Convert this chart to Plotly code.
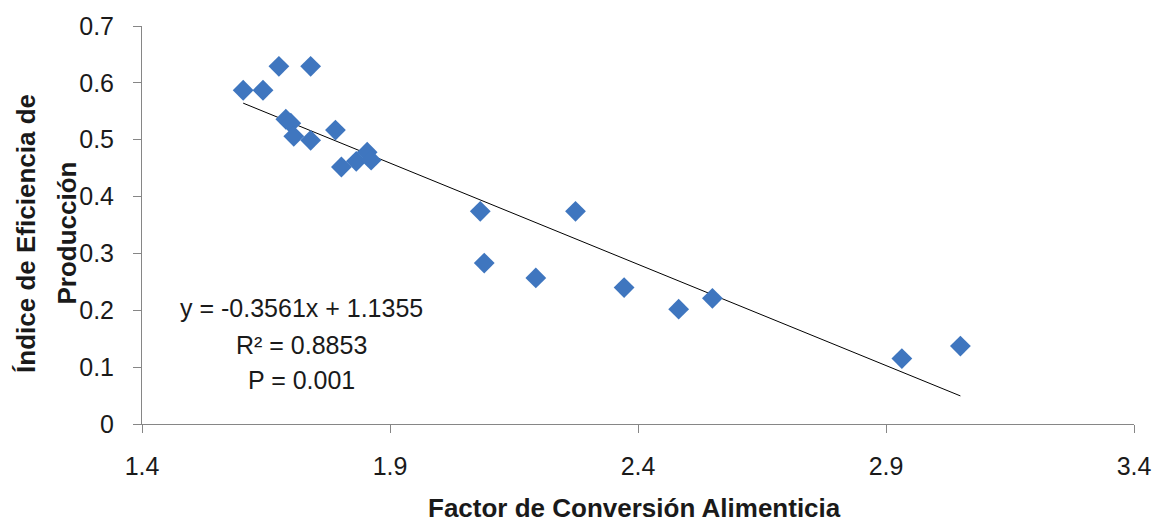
import plotly.graph_objects as go

fca = [1.604, 1.644, 1.676, 1.740, 1.690, 1.700, 1.706, 1.740, 1.790, 1.802,
       1.832, 1.854, 1.862, 2.082, 2.090, 2.194, 2.274, 2.372, 2.482, 2.550,
       2.932, 3.050]
iep = [0.587, 0.587, 0.629, 0.629, 0.536, 0.529, 0.506, 0.499, 0.517, 0.452,
       0.462, 0.478, 0.464, 0.374, 0.283, 0.257, 0.374, 0.240, 0.202, 0.221,
       0.115, 0.137]

slope = -0.3561
intercept = 1.1355
eq_lines = ["y = -0.3561x + 1.1355", "R² = 0.8853", "P = 0.001"]

x_title = "Factor de Conversión Alimenticia"
y_title_lines = ["Índice de Eficiencia de", "Producción"]

font = "Liberation Sans, Arial, sans-serif"
txt = "#1a1a1a"
axc = "#868686"

fig = go.Figure()

x0, x1 = min(fca), max(fca)
fig.add_trace(go.Scatter(x=[x0, x1], y=[slope * x0 + intercept, slope * x1 + intercept],
                         mode="lines", line=dict(color="#000000", width=1), hoverinfo="skip"))

fig.add_trace(go.Scatter(x=fca, y=iep, mode="markers",
                         marker=dict(symbol="diamond", size=16, color="#3F76BF",
                                     line=dict(width=0))))

fig.update_layout(
    width=1163, height=523,
    margin=dict(l=142, r=24, t=15, b=99),
    paper_bgcolor="white", plot_bgcolor="white",
    showlegend=False,
    font=dict(family=font, color=txt),
)
fig.update_xaxes(range=[1.4, 3.4], dtick=0.5, tick0=1.4, showgrid=False, zeroline=False,
                 showline=True, linecolor=axc, linewidth=1,
                 ticks="outside", ticklen=8, tickcolor=axc,
                 ticklabelstandoff=12,
                 tickfont=dict(size=25, family=font, color=txt))
fig.update_yaxes(range=[0, 0.7], dtick=0.1, showgrid=False, zeroline=False,
                 showline=True, linecolor=axc, linewidth=1,
                 ticks="outside", ticklen=8, tickcolor=axc,
                 ticklabelstandoff=14,
                 tickfont=dict(size=25, family=font, color=txt))

# axis titles
fig.add_annotation(text=x_title, xref="paper", yref="paper", x=0.4965, y=-0.21,
                   xanchor="center", yanchor="middle", showarrow=False,
                   font=dict(size=26, family=font, color=txt, weight="bold"))
y_title_x = [-0.117, -0.076]
for i, line in enumerate(y_title_lines):
    fig.add_annotation(text=line, xref="paper", yref="paper", x=y_title_x[i], y=0.48,
                       xanchor="center", yanchor="middle", textangle=-90, showarrow=False,
                       font=dict(size=26, family=font, color=txt, weight="bold"))

# equation text
eq_y = [0.292, 0.198, 0.111]
for line, yy in zip(eq_lines, eq_y):
    fig.add_annotation(text=line, xref="paper", yref="paper", x=0.161, y=yy,
                       xanchor="center", yanchor="middle", showarrow=False,
                       font=dict(size=25, family=font, color=txt))

fig.write_html("out.html")
